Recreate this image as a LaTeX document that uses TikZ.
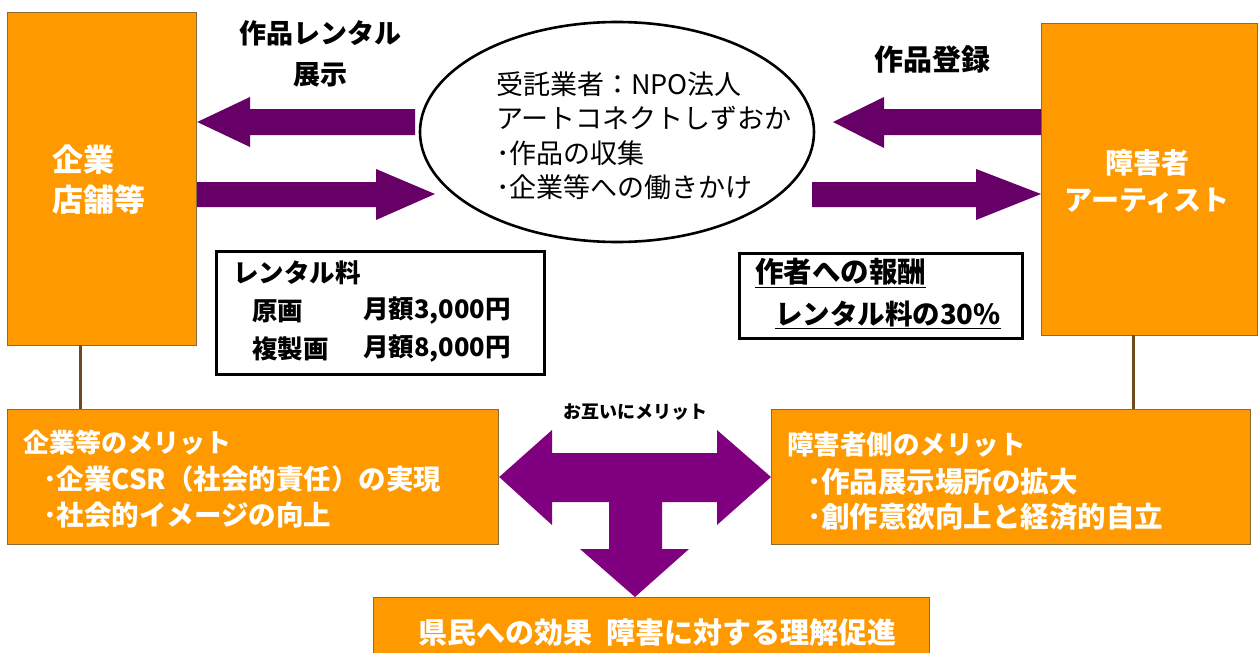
\documentclass[tikz,border=0pt]{standalone}
\usepackage{fontspec}
\setmainfont{Noto Sans CJK JP}
\usetikzlibrary{shapes.geometric}
\definecolor{orng}{HTML}{FF9900}
\definecolor{boxedge}{HTML}{8C6A38}
\definecolor{dpurp}{HTML}{660066}
\definecolor{mpurp}{HTML}{800080}
\definecolor{stemc}{HTML}{6E4B1E}
\begin{document}
\begin{tikzpicture}[x=1pt,y=-1pt,
  obox/.style={fill=orng,draw=boxedge,line width=1.2pt,inner sep=0,anchor=north west},
  kbox/.style={draw=black,line width=2.5pt,inner sep=0,anchor=north west},
  wtxt/.style={text=white,font=\bfseries\fontsize{#1}{#1}\selectfont,inner sep=0,anchor=west},
  btxt/.style={text=black,font=\bfseries\fontsize{#1}{#1}\selectfont,inner sep=0,anchor=west},
  stem/.style={draw=stemc,line width=3pt},
  darr/.style={fill=dpurp},
  marr/.style={fill=mpurp}
]
\clip (0,0) rectangle (1258,653);
\fill[white] (0,0) rectangle (1258,653);

% main boxes
\node[obox,minimum width=189,minimum height=333] (lbox) at (7,12) {};
\node[obox,minimum width=216,minimum height=312] (rbox) at (1041,23) {};
\node[wtxt=31,align=left,font=\bfseries\fontsize{31}{40}\selectfont] (ltext) at (52,180) {企業\\店舗等};
\node[wtxt=28,align=center,anchor=center,font=\bfseries\fontsize{28}{37}\selectfont] (rtext) at (1147,181) {障害者\\アーティスト};

% ellipse
\node[ellipse,draw=black,line width=2.6pt,minimum width=394,minimum height=220,inner sep=0] (ell) at (617,132) {};
\node[inner sep=0,anchor=west,align=left,font=\fontsize{27}{34.5}\selectfont] (elltext) at (496,136)
  {受託業者：NPO法人\\アートコネクトしずおか\\･作品の収集\\･企業等への働きかけ};

% top labels
\node[btxt=27,anchor=center,align=center,font=\bfseries\fontsize{27}{41}\selectfont] (lab1) at (320,54) {作品レンタル\\展示};
\node[btxt=29,anchor=center] (lab2) at (932,59) {作品登録};

% rental box
\node[kbox,minimum width=328,minimum height=123] (rent) at (215,250) {};
\node[btxt=25.5] (r1) at (233,273) {レンタル料};
\node[btxt=25.5] (r2) at (252,311) {原画};
\node[btxt=25.5] (r3) at (363,311) {月額3,000円};
\node[btxt=25.5] (r4) at (252,349) {複製画};
\node[btxt=25.5] (r5) at (363,349) {月額8,000円};

% reward box
\node[kbox,minimum width=283,minimum height=85] (rew) at (738,252) {};
\node[btxt=28.5] (w1) at (755,273) {\underline{作者への報酬}};
\node[btxt=27.5] (w2) at (775,315) {\underline{レンタル料の30\%}};

% merit boxes
\node[obox,minimum width=491,minimum height=135] (lmerit) at (7,409) {};
\node[wtxt=26] (lm1) at (23,443) {企業等のメリット};
\node[wtxt=27.5] (lm2) at (43,479) {･企業CSR（社会的責任）の実現};
\node[wtxt=27.5] (lm3) at (43,515) {･社会的イメージの向上};

\node[obox,minimum width=479,minimum height=135] (rmerit) at (771,409) {};
\node[wtxt=26.5] (rm1) at (787,445) {障害者側のメリット};
\node[wtxt=28.5] (rm2) at (807,482) {･作品展示場所の拡大};
\node[wtxt=28.5] (rm3) at (807,517) {･創作意欲向上と経済的自立};

% bottom box
\node[obox,minimum width=556,minimum height=70] (bbox) at (373,597) {};
\node[wtxt=29] (bt) at (418,633) {県民への効果\hspace{14pt}障害に対する理解促進};

% stems
\coordinate (ls) at (80,345);
\draw[stem] (ls) -- (ls |- lmerit.north);
\coordinate (rs) at (1133,335);
\draw[stem] (rs) -- (rs |- rmerit.north);

% block arrows
\fill[darr] (415,109) -- (250,109) -- (250,97) -- (lbox.east |- 0,122) -- (250,147) -- (250,135) -- (415,135) -- cycle;
\fill[darr] (lbox.east |- 0,182) -- (376,182) -- (376,169) -- (435,194) -- (376,220) -- (376,207) -- (lbox.east |- 0,207) -- cycle;
\fill[darr] (rbox.west |- 0,109) -- (884,109) -- (884,97) -- (833,122) -- (884,148) -- (884,135) -- (rbox.west |- 0,135) -- cycle;
\fill[darr] (812,182) -- (976,182) -- (976,169) -- (rbox.west |- 0,194) -- (976,220) -- (976,207) -- (812,207) -- cycle;

% three-way arrow
\fill[marr] (lmerit.east |- 0,477) -- (552,430) -- (552,453) -- (717,453) -- (717,430) -- (rmerit.west |- 0,477)
  -- (717,525) -- (717,502) -- (662,502) -- (662,549) -- (689,549) -- (bbox.north -| 635,0) -- (580,549) -- (609,549)
  -- (609,502) -- (552,502) -- (552,525) -- cycle;
\node[btxt=18,anchor=center] (mut) at (635,412) {お互いにメリット};
\end{tikzpicture}
\end{document}
